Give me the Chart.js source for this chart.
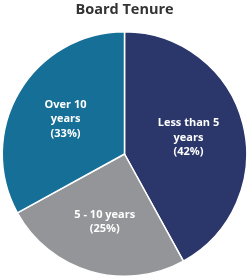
<!DOCTYPE html>
<html>
<head>
<meta charset="utf-8">
<script src="https://cdn.jsdelivr.net/npm/chart.js@4/dist/chart.umd.min.js"></script>
<style>
  html, body { margin: 0; padding: 0; background: #ffffff; }
  canvas { display: block; }
</style>
</head>
<body>
<canvas id="tenureChart" width="249" height="279"></canvas>
<script>
// Board tenure data
const categories = ['Less than 5 years', '5 - 10 years', 'Over 10 years'];
const labelLines = [['Less than 5', 'years'], ['5 - 10 years'], ['Over 10', 'years']];
const shares = [42, 25, 33];

const sliceColors = ['#2b366b', '#939598', '#156f97'];
// how far out (fraction of radius) each slice label sits
const labelRadius = [0.54, 0.58, 0.56];

// Draw the in-slice labels in white bold text
const sliceLabels = {
    id: 'sliceLabels',
    afterDatasetsDraw(chart) {
        const ctx = chart.ctx;
        const arcs = chart.getDatasetMeta(0).data;
        ctx.save();
        ctx.fillStyle = '#ffffff';
        ctx.font = "bold 11px 'Open Sans', sans-serif";
        ctx.textAlign = 'center';
        ctx.textBaseline = 'middle';
        const lineHeight = 14.5;
        arcs.forEach((arc, i) => {
            const p = arc.getProps(['x', 'y', 'startAngle', 'endAngle', 'outerRadius'], true);
            const mid = (p.startAngle + p.endAngle) / 2;
            const r = p.outerRadius * labelRadius[i];
            const cx = p.x + Math.cos(mid) * r;
            const cy = p.y + Math.sin(mid) * r;
            const lines = labelLines[i].concat('(' + shares[i] + '%)');
            const top = cy - (lines.length - 1) * lineHeight / 2;
            lines.forEach((line, j) => ctx.fillText(line, cx, top + j * lineHeight));
        });
        ctx.restore();
    }
};

const ctx = document.getElementById('tenureChart').getContext('2d');
new Chart(ctx, {
    type: 'pie',
    data: {
        labels: categories,
        datasets: [
            {
                data: shares,
                backgroundColor: sliceColors,
                borderColor: '#ffffff',
                borderWidth: 1.5,
                hoverOffset: 0
            }
        ]
    },
    options: {
        responsive: false,
        animation: false,
        layout: {
            padding: { top: 0, bottom: 2, left: 0, right: 0 }
        },
        plugins: {
            legend: { display: false },
            tooltip: { enabled: false },
            title: {
                display: true,
                text: 'Board Tenure',
                color: '#333333',
                font: { family: "'Open Sans', sans-serif", size: 14.5, weight: 'bold', lineHeight: 1.2 },
                padding: { top: 1, bottom: 12.6 }
            }
        }
    },
    plugins: [sliceLabels]
});
</script>
</body>
</html>
